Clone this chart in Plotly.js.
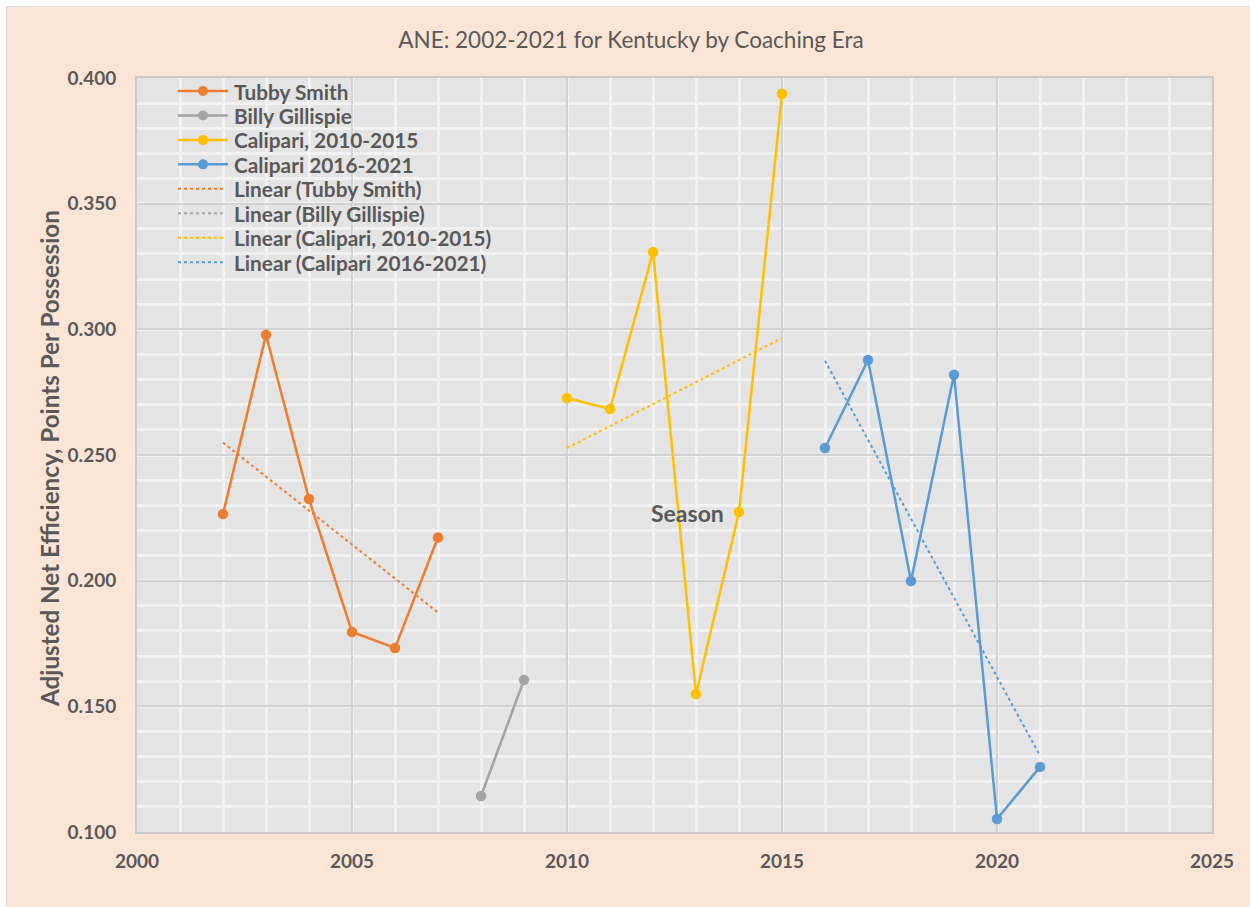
<!DOCTYPE html>
<html>
<head>
<meta charset="utf-8">
<script src="https://cdn.plot.ly/plotly-3.0.1.min.js"></script>
<style>
html,body{margin:0;padding:0;background:#ffffff;}
#frame{position:absolute;left:6px;top:6px;border-top:1px solid #d9d9d9;border-left:1px solid #d9d9d9;}
#chart{width:1243px;height:900px;}
</style>
</head>
<body>
<div id="frame"><div id="chart"></div></div>
<script>
// Data
const tubbyYears = [2002, 2003, 2004, 2005, 2006, 2007];
const tubbyANE = [0.2265, 0.2978, 0.2325, 0.1796, 0.1732, 0.2172];

const gillispieYears = [2008, 2009];
const gillispieANE = [0.1143, 0.1605];

const calipari1Years = [2010, 2011, 2012, 2013, 2014, 2015];
const calipari1ANE = [0.2727, 0.2683, 0.3308, 0.1549, 0.2273, 0.3937];

const calipari2Years = [2016, 2017, 2018, 2019, 2020, 2021];
const calipari2ANE = [0.2528, 0.2878, 0.1999, 0.2819, 0.1052, 0.1259];

const seriesNames = ["Tubby Smith", "Billy Gillispie", "Calipari, 2010-2015", "Calipari 2016-2021"];
const seriesColors = ["#ED7D31", "#A5A5A5", "#FFC000", "#5B9BD5"];

const yTickVals = [0.100, 0.150, 0.200, 0.250, 0.300, 0.350, 0.400];
const yTickText = ["0.100", "0.150", "0.200", "0.250", "0.300", "0.350", "0.400"];
const xTickVals = [2000, 2005, 2010, 2015, 2020, 2025];

function linFit(xs, ys) {
  const n = xs.length;
  const mx = xs.reduce((a, b) => a + b, 0) / n;
  const my = ys.reduce((a, b) => a + b, 0) / n;
  let sxy = 0, sxx = 0;
  for (let i = 0; i < n; i++) { sxy += (xs[i] - mx) * (ys[i] - my); sxx += (xs[i] - mx) * (xs[i] - mx); }
  const b = sxy / sxx, a = my - b * mx;
  const x0 = xs[0], x1 = xs[n - 1];
  return { x: [x0, x1], y: [a + b * x0, a + b * x1] };
}

const allX = [tubbyYears, gillispieYears, calipari1Years, calipari2Years];
const allY = [tubbyANE, gillispieANE, calipari1ANE, calipari2ANE];

const traces = [];
for (let i = 0; i < 4; i++) {
  traces.push({
    type: 'scatter', mode: 'lines+markers', name: seriesNames[i],
    x: allX[i], y: allY[i],
    line: { color: seriesColors[i], width: 2.5 },
    marker: { color: seriesColors[i], size: 10.5 }
  });
}
for (let i = 0; i < 4; i++) {
  const f = linFit(allX[i], allY[i]);
  traces.push({
    type: 'scatter', mode: 'lines', name: 'Linear (' + seriesNames[i] + ')',
    x: f.x, y: f.y,
    line: { color: seriesColors[i], width: 2, dash: 'dot' }
  });
}

// Plot-area geometry in page pixels (for the hand-built legend)
const PL = 137, PW = 1075, PB = 832, PH = 754;
const px = v => (v - PL) / PW;
const py = v => (PB - v) / PH;

const fontFam = 'Lato, "Open Sans", sans-serif';
const txtColor = '#595959';

const shapes = [];
const annotations = [
  {
    text: 'Season', xref: 'paper', yref: 'paper', x: px(687), y: py(513),
    xanchor: 'center', yanchor: 'middle', showarrow: false,
    font: { family: fontFam, size: 23, color: txtColor, weight: 'bold' }
  },
  {
    text: 'Adjusted Net Efficiency, Points Per Possession', xref: 'paper', yref: 'paper',
    x: px(49), y: py(459), textangle: -90, xanchor: 'center', yanchor: 'middle', showarrow: false,
    font: { family: fontFam, size: 24.2, color: txtColor, weight: 'bold' }
  }
];

// Legend built from the trace names and colours
const legRow0 = 91, legStep = 24.45;
for (let k = 0; k < 8; k++) {
  const i = k % 4;
  const isTrend = k >= 4;
  const yy = py(legRow0 + k * legStep);
  shapes.push({
    type: 'line', xref: 'paper', yref: 'paper',
    x0: px(178), x1: px(isTrend ? 226 : 228), y0: yy, y1: yy,
    line: { color: seriesColors[i], width: isTrend ? 2 : 2.5, dash: isTrend ? 'dot' : 'solid' }
  });
  if (!isTrend) {
    shapes.push({
      type: 'circle', xref: 'paper', yref: 'paper',
      xsizemode: 'pixel', ysizemode: 'pixel', xanchor: px(203), yanchor: yy,
      x0: -5, x1: 5, y0: -5, y1: 5,
      fillcolor: seriesColors[i], line: { width: 0 }
    });
  }
  annotations.push({
    text: traces[k].name, xref: 'paper', yref: 'paper', x: px(232), y: yy,
    xanchor: 'left', yanchor: 'middle', showarrow: false,
    font: { family: fontFam, size: 20.8, color: txtColor, weight: 'bold' }
  });
}

const layout = {
  width: 1243, height: 900,
  margin: { l: 130, r: 38, t: 71, b: 75 },
  paper_bgcolor: '#FBE5D6',
  plot_bgcolor: '#E4E4E4',
  font: { family: fontFam, color: txtColor },
  title: {
    text: 'ANE: 2002-2021 for Kentucky by Coaching Era',
    font: { family: fontFam, size: 22.5, color: txtColor },
    x: 0.502, xanchor: 'center', y: 0.963, yanchor: 'middle'
  },
  showlegend: false,
  xaxis: {
    range: [2000, 2025],
    tickvals: xTickVals,
    ticktext: xTickVals.map(String),
    ticks: '',
    tickfont: { family: fontFam, size: 19, color: txtColor, weight: 'bold' },
    ticklabelstandoff: 11,
    showgrid: true, gridcolor: '#D2D2D2', gridwidth: 2,
    minor: { dtick: 1, showgrid: true, gridcolor: '#F2F2F2', gridwidth: 3 },
    showline: true, linecolor: '#C9C9C9', linewidth: 2, mirror: true,
    zeroline: false, fixedrange: true
  },
  yaxis: {
    range: [0.100, 0.400],
    tickvals: yTickVals,
    ticktext: yTickText,
    ticks: '',
    tickfont: { family: fontFam, size: 19, color: txtColor, weight: 'bold' },
    ticklabelstandoff: 15,
    showgrid: true, gridcolor: '#D2D2D2', gridwidth: 2,
    minor: { dtick: 0.01, showgrid: true, gridcolor: '#F2F2F2', gridwidth: 3 },
    showline: true, linecolor: '#C9C9C9', linewidth: 2, mirror: true,
    zeroline: false, fixedrange: true
  },
  shapes: shapes,
  annotations: annotations
};

Plotly.newPlot('chart', traces, layout, { displayModeBar: false, staticPlot: true });
</script>
</body>
</html>
